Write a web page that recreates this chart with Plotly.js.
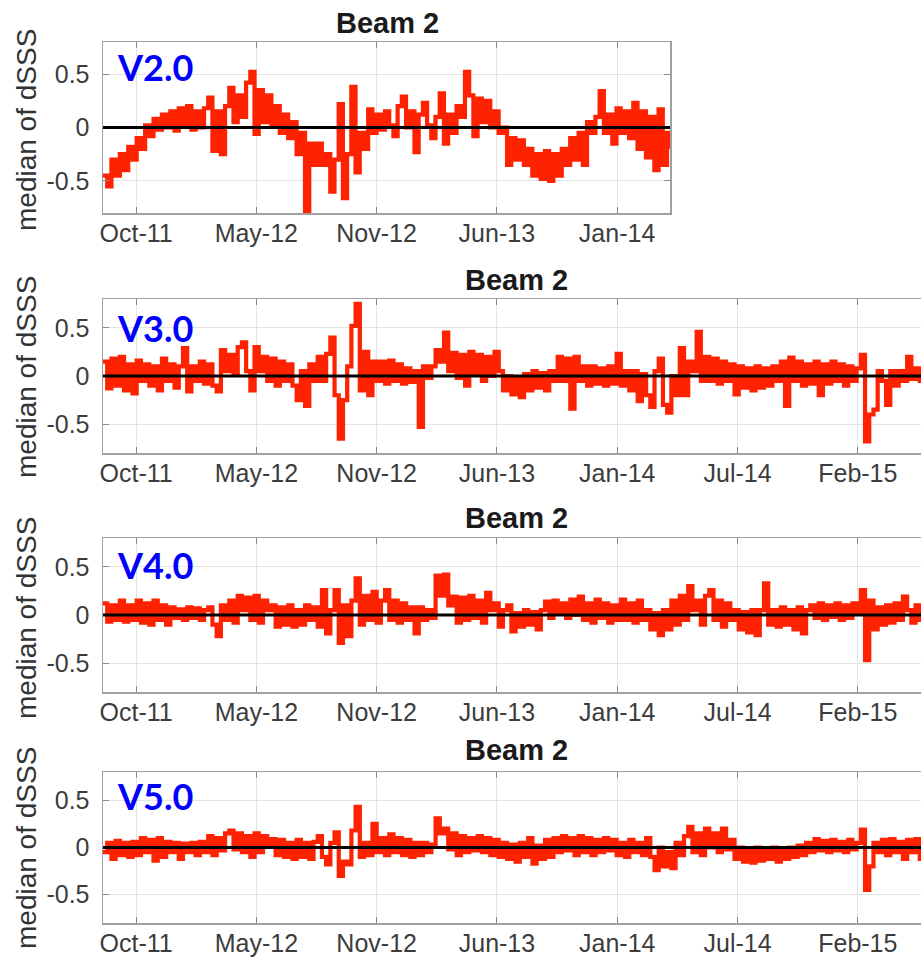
<!DOCTYPE html>
<html>
<head>
<meta charset="utf-8">
<script src="https://cdn.plot.ly/plotly-3.0.1.min.js"></script>
<style>
  html, body { margin: 0; padding: 0; overflow: hidden; background: #ffffff; }
  #chart { width: 930px; height: 957px; }
</style>
</head>
<body>
<div id="chart"></div>
<script>
// Weekly medians of dSSS (beam 2), one value per 7 days starting on the first date below.
const seriesStart = '2011-08-31';
const stepDays = 7;

const medianV2 = [
  -0.45, -0.55, -0.3, -0.45, -0.25, -0.4, -0.18, -0.3, -0.1, -0.2,
  0.02, -0.08, 0.08, -0.02, 0.12, 0.0, 0.15, -0.03, 0.18, 0.02,
  0.2, -0.02, 0.15, 0.0, 0.18, 0.28, -0.22, 0.15, -0.25, 0.2,
  0.37, 0.05, 0.3, 0.1, 0.42, 0.52, -0.06, 0.35, 0.05, 0.3,
  0.02, 0.2, -0.05, 0.12, -0.1, 0.05, -0.25, -0.05, -0.78, -0.15,
  -0.35, -0.15, -0.35, -0.25, -0.6, -0.3, 0.22, -0.66, -0.25, 0.38,
  -0.42, -0.05, -0.2, 0.17, -0.05, 0.12, -0.02, 0.15, 0.02, -0.08,
  0.2, 0.29, 0.0, 0.15, -0.23, 0.12, 0.23, 0.02, -0.1, 0.1,
  0.32, -0.15, 0.12, -0.05, 0.2, 0.1, 0.52, 0.3, -0.08, 0.27,
  0.05, 0.25, 0.0, 0.15, -0.05, 0.0, -0.35, -0.1, -0.3, -0.12,
  -0.35, -0.2, -0.45, -0.25, -0.48, -0.22, -0.5, -0.25, -0.45, -0.2,
  -0.35, -0.1, -0.3, -0.05, -0.35, 0.05, -0.05, 0.1, 0.34, -0.05,
  0.12, -0.15, 0.18, -0.05, 0.15, -0.1, 0.23, -0.2, 0.15, -0.28,
  0.1, -0.4, 0.17, -0.35, -0.05, -0.2
];

const medianV3 = [
  0.15, -0.13, 0.18, -0.1, 0.2, -0.15, 0.12, -0.18, 0.16, -0.05,
  0.12, -0.1, 0.1, -0.15, 0.18, -0.05, 0.12, -0.12, 0.1, 0.29,
  -0.16, 0.1, -0.05, 0.15, -0.08, 0.12, -0.1, -0.16, 0.27, 0.05,
  0.22, 0.02, 0.3, 0.35, 0.05, -0.15, 0.3, 0.05, 0.2, -0.05,
  0.18, -0.1, 0.15, -0.05, 0.12, -0.1, -0.25, 0.05, -0.31, 0.12,
  -0.05, 0.2, -0.05, 0.23, 0.4, -0.2, -0.65, -0.25, 0.1, 0.52,
  0.75, -0.15, 0.25, -0.2, 0.15, -0.05, 0.15, -0.08, 0.16, -0.05,
  0.12, -0.08, 0.08, -0.06, 0.05, -0.53, 0.1, -0.02, 0.1, 0.27,
  0.15, 0.45, 0.05, 0.24, -0.02, 0.22, -0.1, 0.25, 0.02, 0.22,
  -0.05, 0.2, 0.0, 0.25, 0.05, -0.15, 0.0, -0.19, -0.02, -0.22,
  0.02, -0.15, 0.05, -0.12, 0.03, -0.15, 0.05, -0.05, 0.2, -0.05,
  0.18, -0.34, 0.2, -0.05, 0.1, -0.1, 0.1, -0.08, 0.08, -0.1,
  0.1, -0.08, 0.23, -0.1, 0.05, -0.15, 0.05, -0.26, 0.02, -0.2,
  -0.32, 0.05, 0.18, -0.3, -0.38, 0.0, -0.2, 0.29, -0.2, 0.15,
  0.05, 0.46, -0.05, 0.2, -0.05, 0.18, -0.08, 0.15, -0.05, 0.12,
  -0.19, 0.1, -0.12, 0.08, -0.15, 0.1, -0.12, 0.08, -0.1, 0.1,
  -0.05, 0.15, -0.31, 0.19, -0.05, 0.15, -0.1, 0.12, -0.08, 0.15,
  -0.2, 0.12, -0.08, 0.15, -0.05, 0.12, -0.1, 0.1, -0.05, 0.08,
  0.22, -0.68, -0.4, -0.35, 0.05, -0.05, -0.3, 0.05, -0.1, 0.05,
  -0.05, 0.2, -0.03, 0.08, -0.05, 0.05, 0.0
];

const medianV4 = [
  0.12, -0.07, 0.1, -0.05, 0.15, -0.07, 0.1, -0.05, 0.15, -0.08,
  0.12, -0.1, 0.15, -0.05, 0.1, -0.1, 0.08, -0.03, 0.06, -0.05,
  0.08, -0.03, 0.07, -0.05, 0.05, 0.08, -0.1, -0.22, 0.1, -0.05,
  0.15, -0.08, 0.2, 0.05, 0.18, -0.05, 0.2, -0.08, 0.15, 0.05,
  0.1, -0.12, 0.08, -0.1, 0.1, -0.12, 0.05, -0.1, 0.1, -0.05,
  0.08, -0.12, 0.26, -0.19, 0.05, 0.26, -0.29, 0.1, -0.22, 0.15,
  0.38, -0.1, 0.2, -0.05, 0.24, -0.08, 0.15, 0.26, -0.05, 0.15,
  -0.08, 0.12, -0.05, 0.08, -0.19, 0.08, -0.05, 0.05, -0.03, 0.41,
  0.2, 0.42, 0.1, 0.19, -0.08, 0.18, -0.05, 0.2, -0.03, 0.15,
  -0.08, 0.23, 0.05, 0.12, -0.12, 0.05, 0.1, -0.17, 0.02, -0.12,
  0.05, -0.1, 0.03, -0.15, 0.05, 0.14, -0.03, 0.15, 0.02, 0.12,
  -0.03, 0.16, 0.0, 0.19, -0.05, 0.12, -0.08, 0.16, -0.03, 0.12,
  -0.08, 0.1, -0.05, 0.16, -0.05, 0.12, -0.08, 0.15, -0.05, 0.05,
  -0.15, 0.02, -0.21, 0.05, -0.15, 0.15, -0.1, 0.2, -0.05, 0.3,
  0.05, 0.15, -0.1, 0.2, 0.26, -0.05, 0.15, -0.12, 0.12, -0.05,
  0.05, -0.15, 0.03, -0.18, 0.05, -0.21, 0.05, 0.33, -0.1, 0.05,
  -0.12, 0.08, -0.1, 0.05, -0.15, 0.08, -0.19, 0.05, 0.1, -0.03,
  0.12, -0.05, 0.1, -0.02, 0.12, -0.05, 0.1, -0.03, 0.12, 0.02,
  0.26, -0.47, 0.15, -0.15, 0.08, -0.1, 0.1, -0.08, 0.12, -0.05,
  0.19, 0.05, -0.08, 0.1, -0.05, 0.08, 0.0
];

const medianV5 = [
  -0.05, 0.05, -0.12, 0.07, -0.08, 0.05, -0.1, 0.06, -0.08, 0.1,
  -0.05, 0.08, -0.14, 0.1, -0.1, 0.06, -0.05, 0.05, -0.12, 0.04,
  -0.05, 0.05, -0.08, 0.06, -0.05, 0.12, -0.08, 0.1, -0.03, 0.15,
  0.18, -0.02, 0.15, -0.05, 0.12, -0.1, 0.15, -0.05, 0.12, 0.02,
  0.09, -0.08, 0.08, -0.1, 0.05, -0.12, 0.08, -0.1, 0.05, -0.12,
  0.06, 0.12, -0.1, -0.18, 0.05, 0.16, -0.3, -0.15, -0.18, 0.18,
  0.43, -0.1, 0.05, -0.08, 0.25, -0.05, 0.1, -0.08, 0.14, -0.05,
  0.1, -0.08, 0.08, -0.1, 0.05, -0.08, 0.05, -0.05, 0.03, 0.31,
  0.15, 0.2, -0.02, 0.15, -0.08, 0.12, -0.05, 0.1, -0.03, 0.12,
  -0.05, 0.1, -0.08, 0.08, -0.1, 0.05, -0.12, 0.03, -0.15, 0.05,
  -0.1, 0.1, -0.17, 0.02, -0.12, 0.08, -0.1, 0.1, -0.05, 0.12,
  -0.03, 0.1, -0.08, 0.12, -0.05, 0.1, -0.08, 0.08, -0.05, 0.1,
  -0.03, 0.08, -0.08, 0.05, -0.1, 0.08, -0.05, 0.05, -0.08, 0.1,
  -0.1, -0.24, 0.0, -0.2, -0.05, -0.22, 0.05, -0.08, 0.12, 0.22,
  -0.05, 0.15, -0.08, 0.2, 0.0, 0.15, -0.05, 0.2, -0.02, 0.08,
  -0.12, 0.0, -0.15, -0.02, -0.16, 0.0, -0.14, -0.03, -0.12, 0.0,
  -0.15, -0.02, -0.12, 0.0, -0.1, 0.02, -0.08, 0.05, -0.05, 0.09,
  -0.03, 0.07, -0.05, 0.08, -0.03, 0.06, -0.05, 0.08, -0.02, 0.05,
  0.19, -0.45, -0.2, 0.05, -0.05, 0.08, -0.08, 0.09, -0.05, 0.06,
  -0.12, 0.08, -0.05, 0.09, -0.12, 0.05, 0.0
];

// Axis ticks and labels
const tickDates = ['2011-10-25', '2012-05-12', '2012-11-28', '2013-06-16', '2014-01-02', '2014-07-21', '2015-02-06'];
const tickLabels = ['Oct-11', 'May-12', 'Nov-12', 'Jun-13', 'Jan-14', 'Jul-14', 'Feb-15'];
const yTickValues = [-0.5, 0, 0.5];
const yTickLabels = ['-0.5', '0', '0.5'];
const versionLabels = ['V2.0', 'V3.0', 'V4.0', 'V5.0'];
const panelTitle = 'Beam 2';
const yTitleText = 'median of dSSS';
const allSeries = [medianV2, medianV3, medianV4, medianV5];
const rangeEnds = ['2014-03-31', '2015-06-06', '2015-06-06', '2015-06-06'];

// Page geometry in pixels
const W = 930, H = 957;
const panels = [
  { top: 42,  bottom: 213, left: 103, right: 670, titleX: 387, titleY: 23,  yTitleY: 130, labelY: 67 },
  { top: 299, bottom: 453, left: 103, right: 930, titleX: 516, titleY: 280, yTitleY: 377, labelY: 328 },
  { top: 538, bottom: 692, left: 103, right: 930, titleX: 516, titleY: 518, yTitleY: 618, labelY: 565 },
  { top: 772, bottom: 923, left: 103, right: 930, titleX: 516, titleY: 750, yTitleY: 848, labelY: 796 }
];
const px = x => x / W;
const py = y => 1 - y / H;

function datesFor(n) {
  const t0 = Date.parse(seriesStart + 'T00:00:00Z');
  const out = [];
  for (let i = 0; i < n; i++) {
    out.push(new Date(t0 + i * stepDays * 86400000).toISOString().slice(0, 10));
  }
  return out;
}

const tickFont = { family: 'Liberation Sans, Arial, Helvetica, sans-serif', size: 25, color: '#3c3c3c' };
const frame = {
  showline: true, linecolor: '#a0a0a0', linewidth: 1.5, mirror: 'ticks',
  ticks: 'inside', ticklen: 6, tickwidth: 1, tickcolor: '#8a8a8a',
  showgrid: true, gridcolor: '#e4e4e4', gridwidth: 1, zeroline: false,
  tickfont: tickFont, fixedrange: true
};

const traces = [];
const layout = {
  width: W, height: H,
  margin: { l: 0, r: 0, t: 0, b: 0 },
  paper_bgcolor: '#ffffff', plot_bgcolor: '#ffffff',
  showlegend: false,
  annotations: [], shapes: []
};

panels.forEach((p, k) => {
  const sfx = k === 0 ? '' : String(k + 1);
  const values = allSeries[k];
  traces.push({
    type: 'scatter', mode: 'lines',
    x: datesFor(values.length), y: values,
    xaxis: 'x' + sfx, yaxis: 'y' + sfx,
    line: { color: '#ff2200', width: 4.2, shape: 'hv' },
    hoverinfo: 'skip'
  });

  layout['xaxis' + sfx] = Object.assign({}, frame, {
    type: 'date', anchor: 'y' + sfx,
    domain: [px(p.left), px(p.right)],
    range: [seriesStart, rangeEnds[k]],
    tickmode: 'array', tickvals: tickDates, ticktext: tickLabels,
    ticklabelstandoff: -3
  });
  layout['yaxis' + sfx] = Object.assign({}, frame, {
    anchor: 'x' + sfx,
    domain: [py(p.bottom), py(p.top)],
    range: [-0.8, 0.8],
    tickmode: 'array', tickvals: yTickValues, ticktext: yTickLabels,
    ticklabelstandoff: 7
  });

  // zero reference line across the panel
  layout.shapes.push({
    type: 'line', layer: 'above',
    xref: 'x' + sfx + ' domain', x0: 0, x1: 1,
    yref: 'y' + sfx, y0: 0, y1: 0,
    line: { color: '#000000', width: 3 }
  });

  layout.annotations.push(
    {
      text: '<b>' + panelTitle + '</b>', showarrow: false,
      xref: 'paper', yref: 'paper', x: px(p.titleX), y: py(p.titleY),
      xanchor: 'center', yanchor: 'middle',
      font: { family: 'Liberation Sans, Arial, Helvetica, sans-serif', size: 29, color: '#1a1a1a' }
    },
    {
      text: yTitleText, showarrow: false, textangle: -90,
      xref: 'paper', yref: 'paper', x: px(26), y: py(p.yTitleY),
      xanchor: 'center', yanchor: 'middle',
      font: { family: 'Liberation Sans, Arial, Helvetica, sans-serif', size: 28, color: '#333333' }
    },
    {
      text: '<b>' + versionLabels[k] + '</b>', showarrow: false,
      xref: 'paper', yref: 'paper', x: px(115), y: py(p.labelY),
      xanchor: 'left', yanchor: 'middle',
      font: { family: 'Lato, Open Sans, sans-serif', size: 36, color: '#0000ff' }
    }
  );
});

Plotly.newPlot('chart', traces, layout, { staticPlot: true, displayModeBar: false });
</script>
</body>
</html>
